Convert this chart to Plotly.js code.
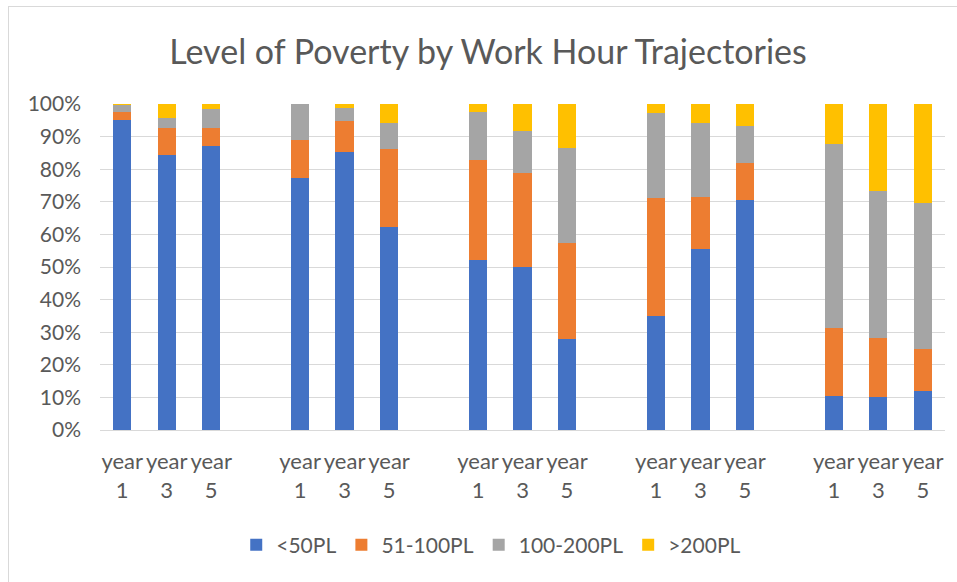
<!DOCTYPE html>
<html>
<head>
<meta charset="utf-8">
<script src="https://cdn.plot.ly/plotly-3.0.1.min.js"></script>
<style>
  html, body { margin: 0; padding: 0; overflow: hidden; background: #fff; }
  #chart { position: absolute; left: 0; top: 0; width: 957px; height: 582px; }
  #frame { position: absolute; left: 8px; top: 6px; width: 1000px; height: 700px;
           border: 1px solid #D9D9D9; pointer-events: none; }
</style>
</head>
<body>
<div id="chart"></div>
<div id="frame"></div>
<script>
// Data (percent of each bar)
const groups = ['T1', 'T2', 'T3', 'T4', 'T5'];
const years = ['year 1', 'year 3', 'year 5'];
const seriesNames = ['<50PL', '51-100PL', '100-200PL', '>200PL'];
const below50 = [95.0, 84.3, 87.0, 77.4, 85.4, 62.3, 52.2, 49.9, 27.8, 34.9, 55.4, 70.5, 10.5, 10.2, 12.0];
const pl51to100 = [2.7, 8.2, 5.5, 11.5, 9.5, 23.9, 30.5, 28.8, 29.6, 36.3, 16.2, 11.4, 20.8, 18.0, 13.0];
const pl100to200 = [2.0, 3.1, 6.0, 11.1, 3.9, 8.0, 14.9, 13.1, 29.2, 26.0, 22.6, 11.4, 56.5, 45.0, 44.6];
const above200 = [0.3, 4.4, 1.5, 0.0, 1.2, 5.8, 2.4, 8.2, 13.4, 2.8, 5.8, 6.7, 12.2, 26.8, 30.4];
const colors = ['#4472C4', '#ED7D31', '#A5A5A5', '#FFC000'];

// category slots: each group of 3 followed by one empty slot
const xs = [];
const tickText = [];
groups.forEach((g, gi) => {
  years.forEach((y, yi) => {
    xs.push(gi * (years.length + 1) + yi);
    tickText.push(y.replace(' ', '<br>'));
  });
});

const allSeries = [below50, pl51to100, pl100to200, above200];
const traces = allSeries.map((vals, i) => ({
  type: 'bar',
  name: seriesNames[i],
  x: xs,
  y: vals,
  marker: { color: colors[i], line: { width: 0 } },
  hoverinfo: 'skip'
}));

const textColor = '#595959';
const fam = 'Lato, Carlito, "Liberation Sans", sans-serif';
const layout = {
  width: 957,
  height: 582,
  barmode: 'stack',
  bargap: 0.59,
  paper_bgcolor: '#ffffff',
  plot_bgcolor: '#ffffff',
  margin: { l: 100, r: 12, t: 104, b: 152 },
  font: { family: fam, color: textColor, size: 18 },
  title: {
    text: 'Level of Poverty by Work Hour Trajectories',
    font: { family: fam, size: 34, color: textColor },
    x: 0.51, xanchor: 'center',
    y: 0.91, yanchor: 'middle'
  },
  xaxis: {
    range: [-0.5, 18.5],
    tickmode: 'array',
    tickvals: xs,
    ticktext: tickText,
    showgrid: false,
    zeroline: false,
    showline: true,
    linecolor: '#D9D9D9',
    linewidth: 1,
    ticks: '',
    tickangle: 0,
    ticklabelstandoff: 12,
    tickfont: { size: 22, color: textColor }
  },
  yaxis: {
    range: [0, 100],
    dtick: 10,
    ticksuffix: '%',
    showgrid: true,
    gridcolor: '#D9D9D9',
    gridwidth: 1,
    zeroline: false,
    showline: false,
    ticks: '',
    ticklabelstandoff: 18,
    tickfont: { size: 21, color: textColor }
  },
  legend: {
    orientation: 'h',
    traceorder: 'normal',
    itemwidth: 30,
    x: 0.463, xanchor: 'center',
    y: -0.353, yanchor: 'middle',
    font: { size: 21, color: textColor },
    itemclick: false
  },
  showlegend: true
};

Plotly.newPlot('chart', traces, layout, { staticPlot: true, displayModeBar: false });
</script>
</body>
</html>
